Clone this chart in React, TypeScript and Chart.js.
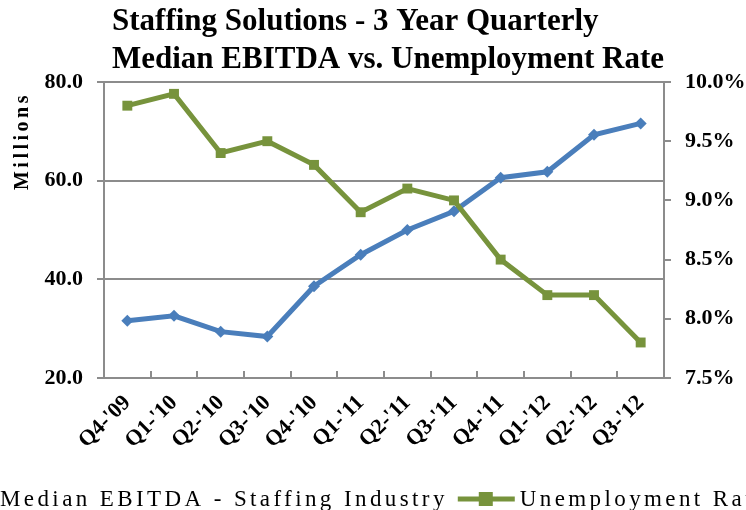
import React, { useEffect, useRef } from "react";
import { Chart, registerables } from "chart.js";
Chart.register(...registerables);

const categories = ["Q4-'09", "Q1-'10", "Q2-'10", "Q3-'10", "Q4-'10", "Q1-'11", "Q2-'11", "Q3-'11", "Q4-'11", "Q1-'12", "Q2-'12", "Q3-'12"];
const ebitda = [31.6, 32.6, 29.4, 28.4, 38.6, 45.0, 50.0, 53.8, 60.6, 61.8, 69.3, 71.6];
const unemployment = [9.8, 9.9, 9.4, 9.5, 9.3, 8.9, 9.1, 9.0, 8.5, 8.2, 8.2, 7.8];
const titleLines = ["Staffing Solutions - 3 Year Quarterly", "Median EBITDA vs. Unemployment Rate"];
const yTitle = "Millions";
const seriesNames = ["Median EBITDA - Staffing Industry", "Unemployment Rate"];

const BLUE = "#4A7EBB";
const GREEN = "#77933C";
const GRID = "#8C8C8C";
const SERIF = '"Liberation Serif", "DejaVu Serif", serif';

const decor = {
  id: "decor",
  afterDraw(chart: any) {
    const ctx = chart.ctx;
    const area = chart.chartArea;
    ctx.save();
    // title
    ctx.fillStyle = "#000";
    ctx.font = `bold 31px ${SERIF}`;
    ctx.textAlign = "left";
    ctx.textBaseline = "alphabetic";
    ctx.fillText(titleLines[0], 112, 30);
    ctx.fillText(titleLines[1], 112, 68);
    // y title
    ctx.save();
    ctx.translate(23, 143);
    ctx.rotate(-Math.PI / 2);
    ctx.font = `bold 20px ${SERIF}`;
    (ctx as any).letterSpacing = "3.5px";
    ctx.textAlign = "center";
    ctx.textBaseline = "middle";
    ctx.fillText(yTitle, 2, 0);
    ctx.restore();
    // x tick marks (inside)
    ctx.strokeStyle = GRID;
    ctx.lineWidth = 2;
    const n = categories.length;
    const step = (area.right - area.left) / n;
    for (let i = 1; i < n; i++) {
      const x = Math.round(area.left + step * i);
      ctx.beginPath();
      ctx.moveTo(x, area.bottom);
      ctx.lineTo(x, area.bottom - 7);
      ctx.stroke();
    }
    // legend
    const ly = 499;
    ctx.font = `23px ${SERIF}`;
    (ctx as any).letterSpacing = "3.4px";
    ctx.textBaseline = "alphabetic";
    ctx.textAlign = "left";
    const t1 = seriesNames[0];
    const w1 = ctx.measureText(t1).width;
    const x1 = 0;
    ctx.strokeStyle = BLUE;
    ctx.lineWidth = 5;
    ctx.beginPath();
    ctx.moveTo(x1 - 60, ly);
    ctx.lineTo(x1 - 4, ly);
    ctx.stroke();
    ctx.fillStyle = "#000";
    ctx.fillText(t1, x1, 506);
    const gx = x1 + w1 + 10;
    ctx.strokeStyle = GREEN;
    ctx.lineWidth = 5;
    ctx.beginPath();
    ctx.moveTo(gx, ly);
    ctx.lineTo(gx + 57, ly);
    ctx.stroke();
    ctx.fillStyle = GREEN;
    ctx.fillRect(gx + 28 - 7, ly - 7, 14, 14);
    ctx.fillStyle = "#000";
    ctx.fillText(seriesNames[1], gx + 62, 506);
    ctx.restore();
  },
};

export default function App() {
  const ref = useRef<HTMLCanvasElement>(null);
  useEffect(() => {
    if (!ref.current) return;
    const tickFont = { family: SERIF, size: 22, weight: "bold" as const };
    const chart = new Chart(ref.current, {
      type: "line",
      data: {
        labels: categories,
        datasets: [
          {
            label: seriesNames[0],
            data: ebitda,
            yAxisID: "y",
            borderColor: BLUE,
            backgroundColor: BLUE,
            borderWidth: 5,
            pointStyle: "rectRot",
            pointRadius: 6,
            pointBorderWidth: 0,
            tension: 0,
            order: 1,
          },
          {
            label: seriesNames[1],
            data: unemployment,
            yAxisID: "y1",
            borderColor: GREEN,
            backgroundColor: GREEN,
            borderWidth: 5,
            pointStyle: "rect",
            pointRadius: 7,
            pointBorderWidth: 0,
            tension: 0,
            order: 0,
          },
        ],
      },
      options: {
        responsive: false,
        animation: false,
        devicePixelRatio: 1,
        layout: { padding: { top: 82, left: 0, right: 0, bottom: 0 } },
        plugins: { legend: { display: false }, title: { display: false }, tooltip: { enabled: false } },
        scales: {
          x: {
            offset: true,
            grid: { display: false },
            border: { display: true, color: GRID, width: 2 },
            ticks: { font: tickFont, color: "#000", maxRotation: 45, minRotation: 45, autoSkip: false, padding: 4 },
            afterFit: (s: any) => { s.height = 132; },
          },
          y: {
            position: "left",
            min: 20,
            max: 80,
            ticks: { stepSize: 20, font: tickFont, color: "#000", padding: 14, callback: (v: any) => Number(v).toFixed(1) },
            grid: { color: GRID, lineWidth: 2, drawTicks: true, tickLength: 7 },
            border: { display: true, color: GRID, width: 2 },
            afterFit: (s: any) => { s.width = 104; },
          },
          y1: {
            position: "right",
            min: 7.5,
            max: 10,
            ticks: { stepSize: 0.5, font: tickFont, color: "#000", padding: 14, callback: (v: any) => Number(v).toFixed(1) + "%" },
            grid: { drawOnChartArea: false, drawTicks: true, tickLength: 7, color: GRID, lineWidth: 2 },
            border: { display: true, color: GRID, width: 2 },
            afterFit: (s: any) => { s.width = 82; },
          },
        },
      },
      plugins: [decor],
    });
    return () => chart.destroy();
  }, []);
  return (
    <div style={{ position: "absolute", left: 0, top: 0, width: 746, height: 510, background: "#fff", overflow: "hidden" }}>
      <canvas ref={ref} width={746} height={510} style={{ display: "block" }} />
    </div>
  );
}
